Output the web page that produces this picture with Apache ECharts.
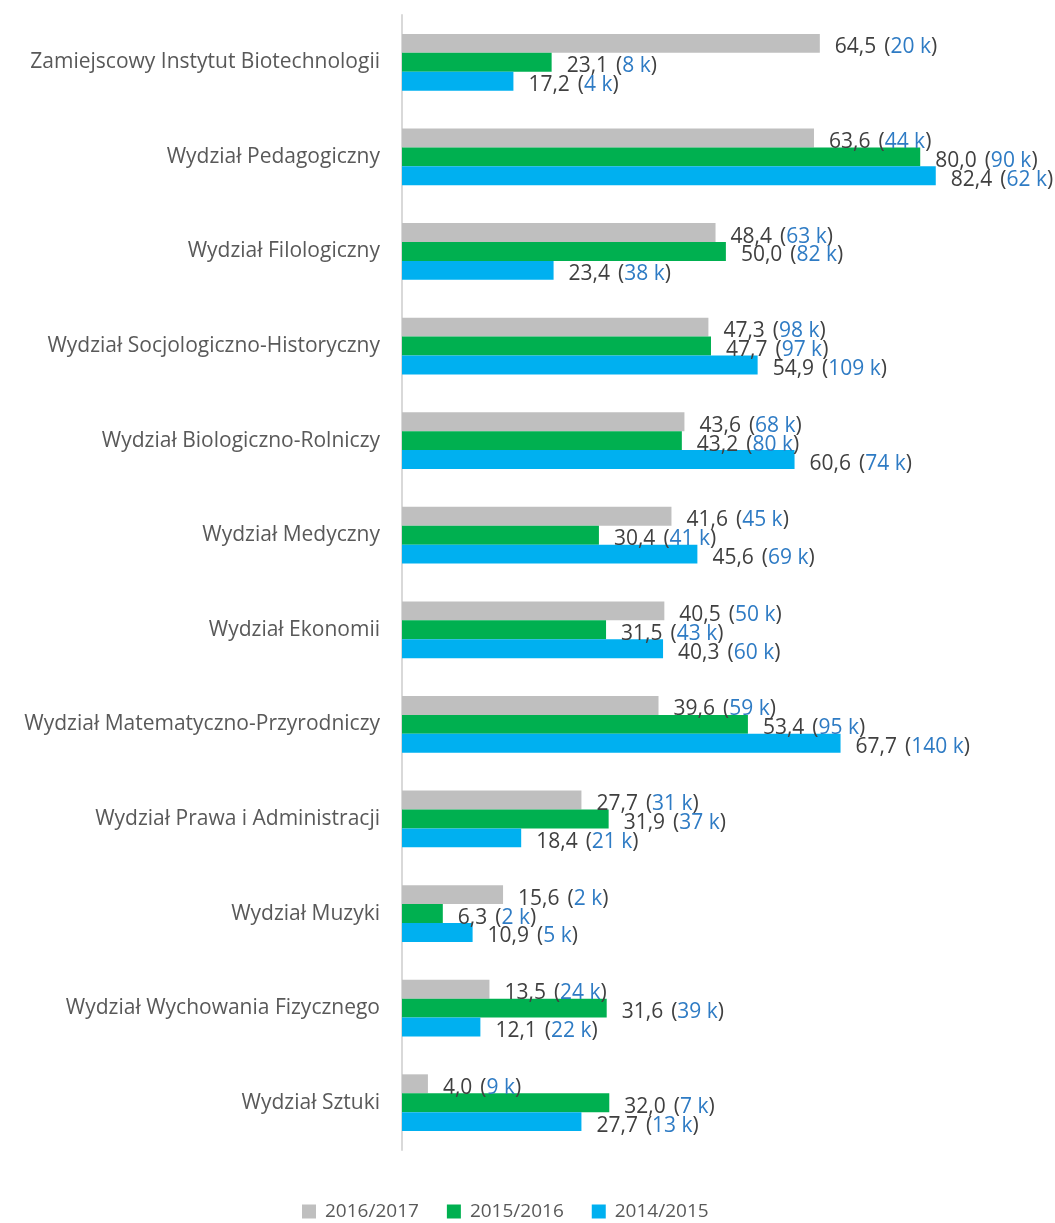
<!DOCTYPE html>
<html>
<head>
<meta charset="utf-8">
<script src="https://cdn.jsdelivr.net/npm/echarts@6/dist/echarts.min.js"></script>
<style>
  html, body { margin: 0; padding: 0; background: #ffffff; }
  #chart { width: 1055px; height: 1223px; }
</style>
</head>
<body>
<div id="chart"></div>
<script>
// Faculties, top to bottom
const categories = [
  'Zamiejscowy Instytut Biotechnologii',
  'Wydział Pedagogiczny',
  'Wydział Filologiczny',
  'Wydział Socjologiczno-Historyczny',
  'Wydział Biologiczno-Rolniczy',
  'Wydział Medyczny',
  'Wydział Ekonomii',
  'Wydział Matematyczno-Przyrodniczy',
  'Wydział Prawa i Administracji',
  'Wydział Muzyki',
  'Wydział Wychowania Fizycznego',
  'Wydział Sztuki'
];

const seriesNames = ['2016/2017', '2015/2016', '2014/2015'];

// Main values per academic year
const values2016 = [64.5, 63.6, 48.4, 47.3, 43.6, 41.6, 40.5, 39.6, 27.7, 15.6, 13.5, 4.0];
const values2015 = [23.1, 80.0, 50.0, 47.7, 43.2, 30.4, 31.5, 53.4, 31.9, 6.3, 31.6, 32.0];
const values2014 = [17.2, 82.4, 23.4, 54.9, 60.6, 45.6, 40.3, 67.7, 18.4, 10.9, 12.1, 27.7];

// Amounts in thousands shown in brackets
const thousands2016 = [20, 44, 63, 98, 68, 45, 50, 59, 31, 2, 24, 9];
const thousands2015 = [8, 90, 82, 97, 80, 41, 43, 95, 37, 2, 39, 7];
const thousands2014 = [4, 62, 38, 109, 74, 69, 60, 140, 21, 5, 22, 13];

const colors = ['#bfbfbf', '#00b050', '#00b0f0'];
const FONT = '"Open Sans", "Noto Sans", sans-serif';

function makeSeries(name, values, extra, color) {
  return {
    name: name,
    type: 'bar',
    data: values,
    barGap: '0%',
    barCategoryGap: '40%',
    itemStyle: { color: color },
    label: {
      show: true,
      position: 'right',
      distance: 15,
      offset: [0, 4],
      fontFamily: FONT,
      formatter: function (p) {
        const v = p.value.toFixed(1).replace('.', ',');
        return '{v|' + v + '}{o|(}{k|' + extra[p.dataIndex] + ' k}{v|)}';
      },
      rich: {
        v: { color: '#404040', fontSize: 21, fontFamily: FONT },
        o: { color: '#404040', fontSize: 21, fontFamily: FONT, padding: [0, 0, 0, 8] },
        k: { color: '#2e7bc4', fontSize: 21, fontFamily: FONT }
      }
    }
  };
}

const chart = echarts.init(document.getElementById('chart'), null, { renderer: 'canvas' });
chart.setOption({
  animation: false,
  backgroundColor: '#ffffff',
  textStyle: { fontFamily: FONT },
  grid: { left: 402, top: 15, width: 583, height: 1135, containLabel: false },
  xAxis: {
    type: 'value',
    min: 0,
    max: 90,
    axisLine: { show: false },
    axisTick: { show: false },
    axisLabel: { show: false },
    splitLine: { show: false }
  },
  yAxis: {
    type: 'category',
    inverse: true,
    data: categories,
    axisLine: { show: true, lineStyle: { color: '#d9d9d9', width: 2 } },
    axisTick: { show: false },
    axisLabel: { color: '#595959', fontSize: 21, margin: 22, fontFamily: FONT }
  },
  legend: {
    top: 1202,
    left: 302,
    padding: 0,
    itemWidth: 14,
    itemHeight: 14,
    itemGap: 28,
    icon: 'rect',
    textStyle: { color: '#595959', fontSize: 19, fontFamily: FONT, padding: [0, 0, 0, 4] },
    data: seriesNames
  },
  series: [
    makeSeries(seriesNames[0], values2016, thousands2016, colors[0]),
    makeSeries(seriesNames[1], values2015, thousands2015, colors[1]),
    makeSeries(seriesNames[2], values2014, thousands2014, colors[2])
  ]
});
</script>
</body>
</html>
